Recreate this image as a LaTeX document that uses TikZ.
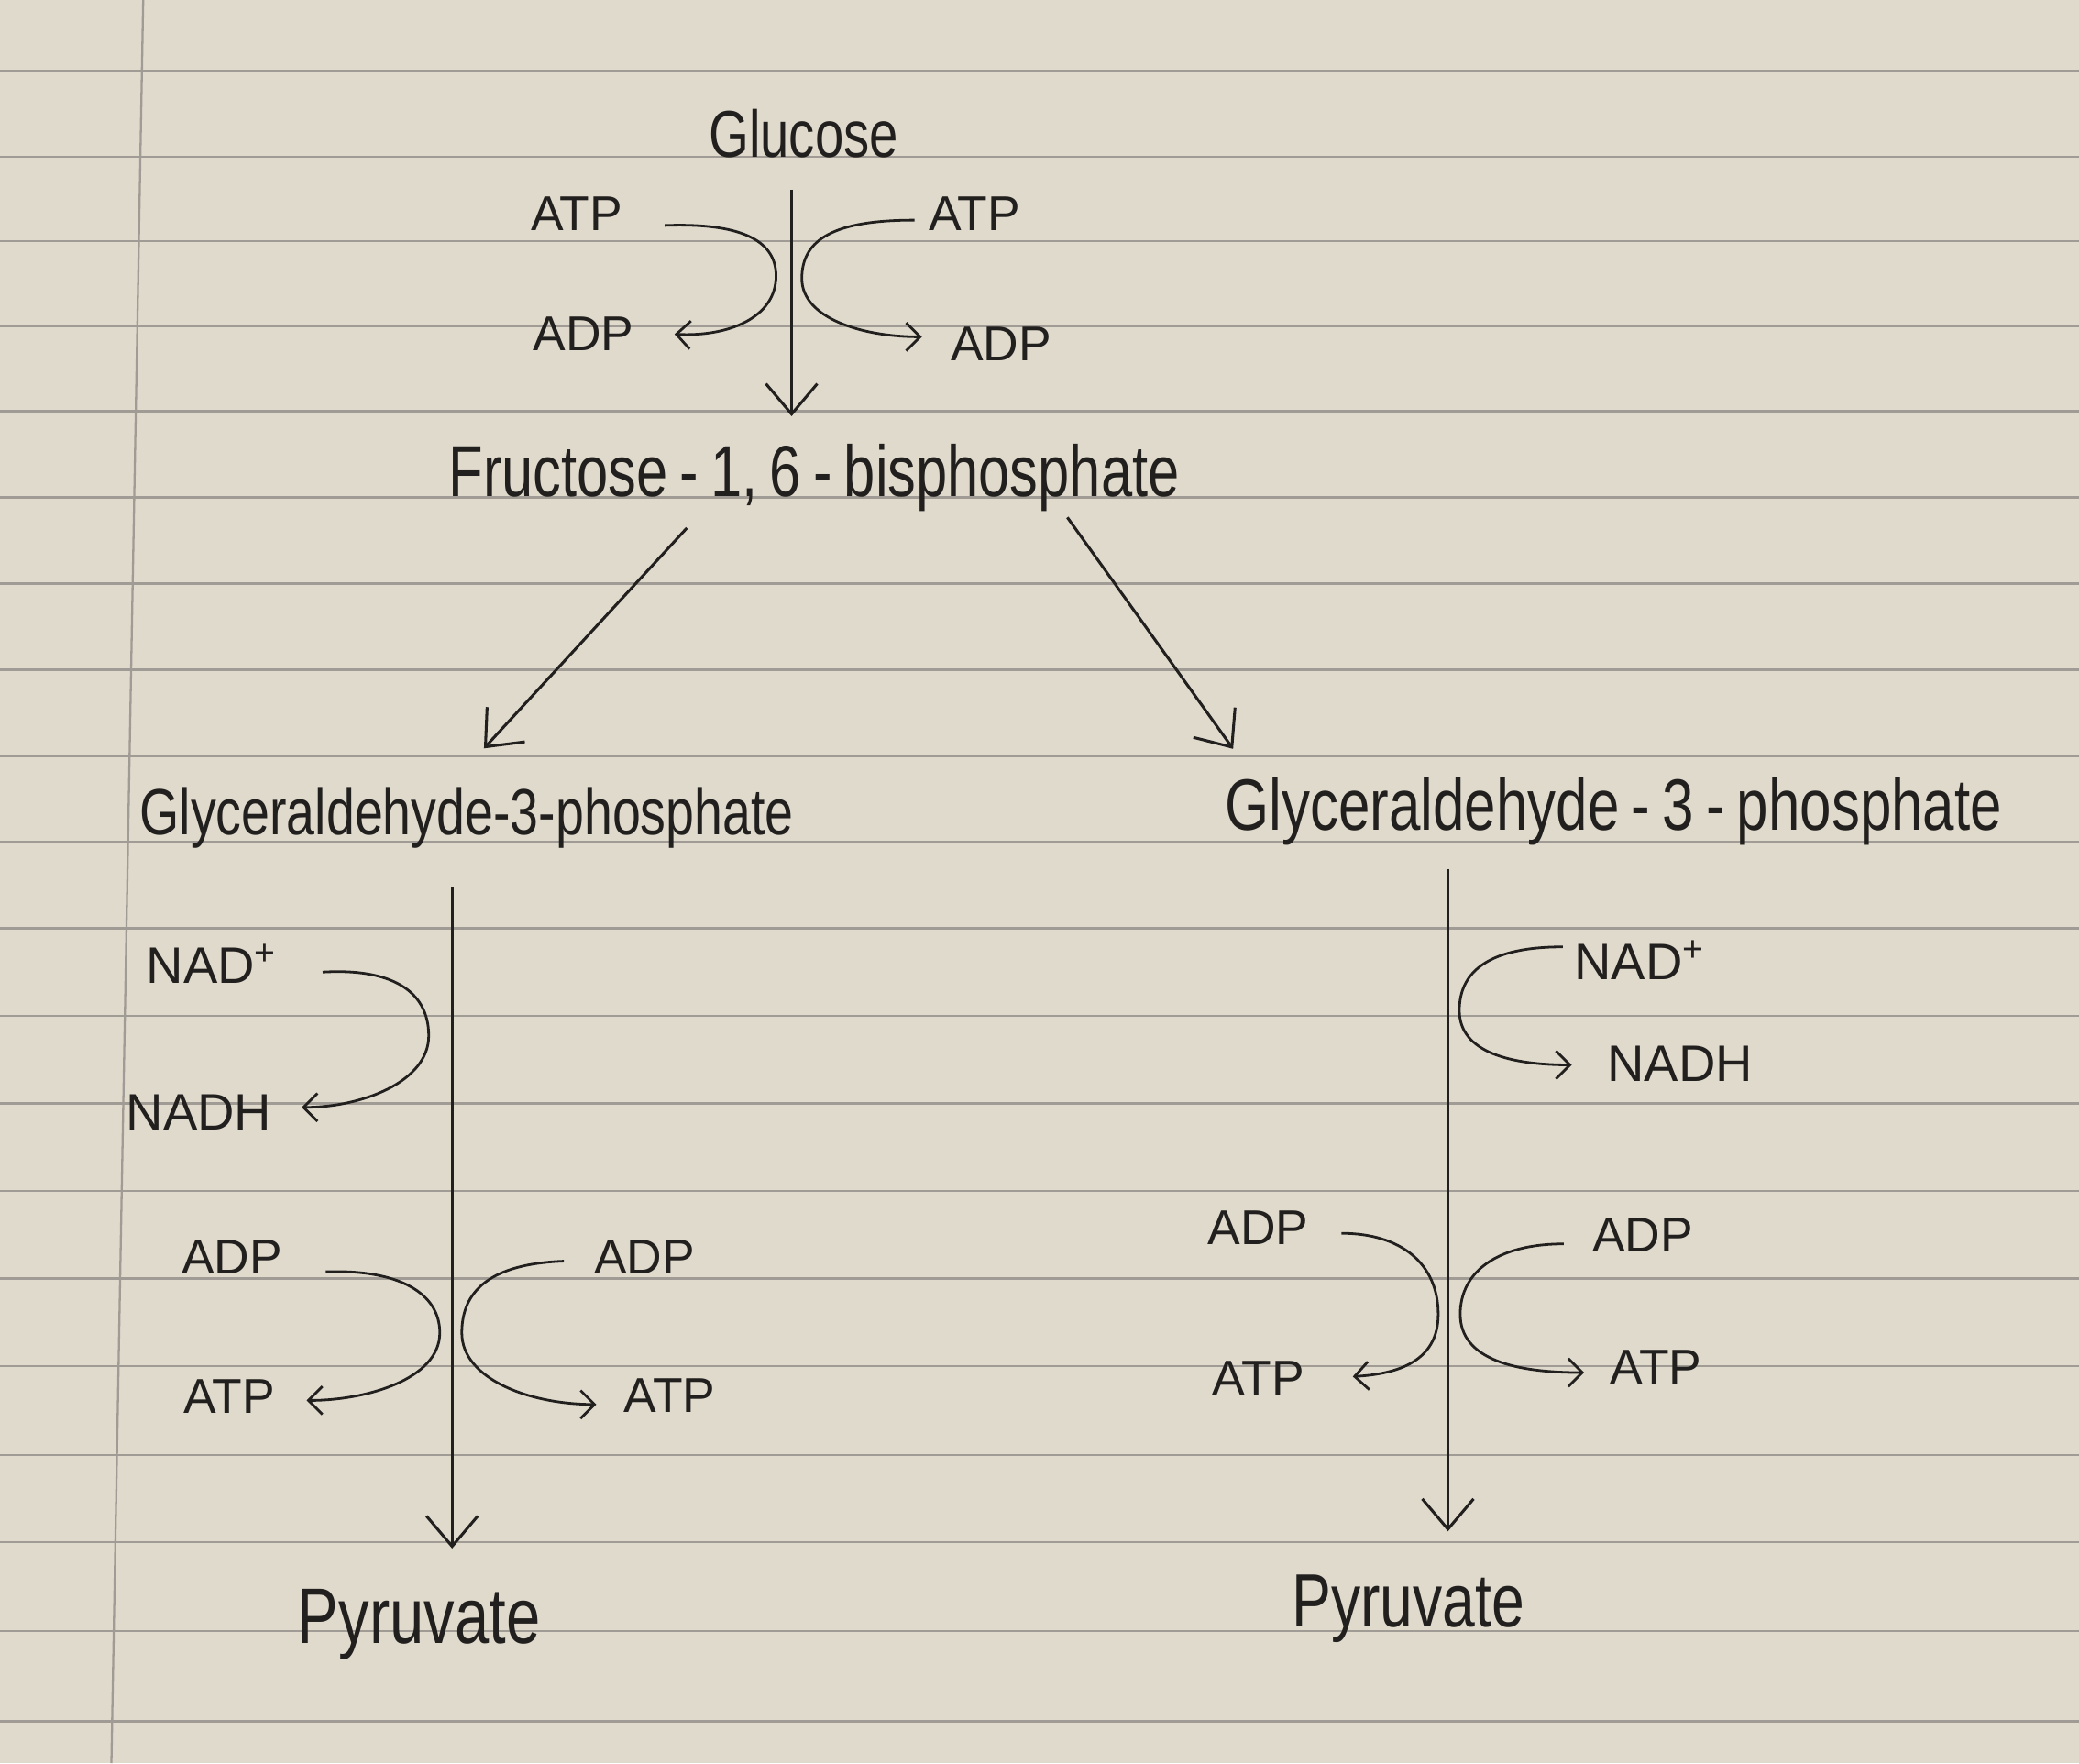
\documentclass[tikz,border=0pt]{standalone}
\usepackage{fontspec}
\setmainfont{Liberation Sans}
\newfontfamily\handfont[FakeStretch=0.78]{Liberation Sans}
\usetikzlibrary{arrows.meta}
\definecolor{papercolor}{RGB}{224,218,205}
\definecolor{linecolor}{RGB}{160,155,148}
\definecolor{inkcolor}{RGB}{34,32,30}
\tikzset{
  %% compound : a metabolite of the pathway (size as option)
  compound/.style={
    font=\handfont\fontsize{#1}{#1}\selectfont,
    text=inkcolor,
    inner sep=2pt
  },
  compound/.default=16,
  %% cofactor : ATP, ADP, NAD+ and NADH
  cofactor/.style={
    font=\fontsize{#1}{#1}\selectfont,
    text=inkcolor,
    inner sep=2pt
  },
  cofactor/.default=10.5,
  %% flow : main reaction arrow
  flow/.style={draw=inkcolor, line width=0.6pt,
    -{Straight Barb[length=6.5pt,width=11pt]}},
  %% swap : coupled cofactor arrow
  swap/.style={draw=inkcolor, line width=0.55pt,
    -{Straight Barb[length=3pt,width=6pt]}},
  %% paperline : ruling of the notebook page
  paperline/.style={linecolor, line width=0.45pt}
}

\begin{document}
\begin{tikzpicture}
  [x=0.01cm,
  y=-0.01cm]

  %% Page
  \useasboundingbox (0,0) rectangle (1568,1329.5);
  \fill [papercolor] (0,0) rectangle (1568,1329.5);
  \foreach \y in {53,118,182,246,310,375,440,505,570,635,700,
                  766,832,898,964,1030,1097,1163,1230,1298}
    \draw [paperline] (0,\y) -- (1568,\y);
  \draw [paperline] (108,0) -- (84,1329.5);

  %% Main pathway
  \node (glucose) [compound=14.2] at (606,101) {Glucose};
  \node (fructose) [compound=15.5] at (614,360) {%
    Fructose\,-\,1,\,6\,-\,bisphosphate};
  \node (gapleft) [compound=14] at (352,617) {%
    Glyceraldehyde-3-phosphate};
  \node (gapright) [compound=15.6] at (1217,612) {%
    Glyceraldehyde\,-\,3\,-\,phosphate};
  \node (pyrleft) [compound=16.9] at (316,1225) {Pyruvate};
  \node (pyrright) [compound=16.2] at (1062,1213) {Pyruvate};

  \draw [flow] ([shift={(-9,16)}]glucose.south)
    -- ([shift={(-17,-13)}]fructose.north);
  \draw [flow] ([shift={(-96,5)}]fructose.south)
    -- ([shift={(13,-22)}]gapleft.north);
  \draw [flow] ([shift={(191,-3)}]fructose.south)
    -- ([shift={(-287,-14)}]gapright.north);
  \draw [flow] ([shift={(-11,21)}]gapleft.south)
    -- ([shift={(25,-23)}]pyrleft.north);
  \draw [flow] ([shift={(-125,10)}]gapright.south)
    -- ([shift={(30,-25)}]pyrright.north);

  %% Cofactors, first stage
  \node (atp1) [cofactor] at (435,161) {ATP};
  \node (adp1) [cofactor] at (440,252) {ADP};
  \node (atp2) [cofactor] at (735,161) {ATP};
  \node (adp2) [cofactor] at (755,259) {ADP};

  \draw [swap] ([shift={(24,9)}]atp1.east)
    .. controls +(55,-2) and +(0,-28) .. ++(84,38)
    .. controls +(0,32) and +(40,2) .. ([shift={(23,0)}]adp1.east);
  \draw [swap] ([shift={(-3,5)}]atp2.west)
    .. controls +(-60,0) and +(0,-30) .. ++(-85,44)
    .. controls +(0,30) and +(-45,0) .. ([shift={(-14,-5)}]adp2.west);

  %% Cofactors, left branch
  \node (nad3) [cofactor=11] at (160,727) {NAD\textsuperscript{+}};
  \node (nadh3) [cofactor=11] at (150,839) {NADH};
  \node (adp3) [cofactor] at (175,948) {ADP};
  \node (atp3) [cofactor] at (173,1053) {ATP};
  \node (adp4) [cofactor] at (486,948) {ADP};
  \node (atp4) [cofactor] at (505,1052) {ATP};

  \draw [swap] ([shift={(26,6)}]nad3.east)
    .. controls +(50,-3) and +(0,-35) .. ++(80,48)
    .. controls +(0,35) and +(45,0) .. ([shift={(15,-4)}]nadh3.east);
  \draw [swap] ([shift={(25,11)}]adp3.east)
    .. controls +(55,-2) and +(0,-30) .. ++(86,46)
    .. controls +(0,35) and +(45,0) .. ([shift={(16,3)}]atp3.east);
  \draw [swap] ([shift={(-15,3)}]adp4.west)
    .. controls +(-55,2) and +(0,-32) .. ++(-77,54)
    .. controls +(0,35) and +(-50,0) .. ([shift={(-13,7)}]atp4.west);

  %% Cofactors, right branch
  \node (nad5) [cofactor=11] at (1237,724) {NAD\textsuperscript{+}};
  \node (nadh5) [cofactor=11] at (1267,802) {NADH};
  \node (adp6) [cofactor] at (949,926) {ADP};
  \node (atp6) [cofactor] at (949,1039) {ATP};
  \node (adp7) [cofactor] at (1239,931) {ADP};
  \node (atp7) [cofactor] at (1249,1031) {ATP};

  \draw [swap] ([shift={(-1,-10)}]nad5.west)
    .. controls +(-55,0) and +(0,-30) .. ++(-78,48)
    .. controls +(0,32) and +(-45,0) .. ([shift={(-19,1)}]nadh5.west);
  \draw [swap] ([shift={(17,4)}]adp6.east)
    .. controls +(45,0) and +(0,-38) .. ++(73,61)
    .. controls +(0,35) and +(35,-2) .. ([shift={(29,-1)}]atp6.east);
  \draw [swap] ([shift={(-14,7)}]adp7.west)
    .. controls +(-50,0) and +(0,-32) .. ++(-78,53)
    .. controls +(0,35) and +(-50,0) .. ([shift={(-12,4)}]atp7.west);

\end{tikzpicture}
\end{document}
